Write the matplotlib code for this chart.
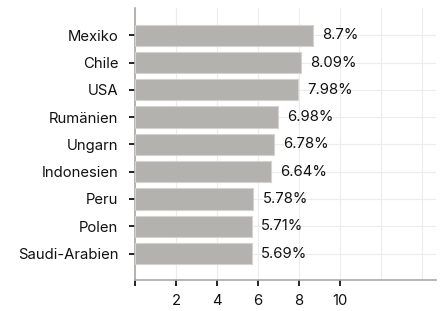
import numpy as np
import matplotlib.pyplot as plt

countries = ['Mexiko', 'Chile', 'USA', 'Rumänien', 'Ungarn',
             'Indonesien', 'Peru', 'Polen', 'Saudi-Arabien']
values = [8.7, 8.09, 7.98, 6.98, 6.78, 6.64, 5.78, 5.71, 5.69]
value_labels = ['8.7%', '8.09%', '7.98%', '6.98%', '6.78%',
                '6.64%', '5.78%', '5.71%', '5.69%']
xticks = [0, 2, 4, 6, 8, 10]
xtick_labels = ['', '2', '4', '6', '8', '10']

plt.rcParams['font.family'] = ['Inter', 'DejaVu Sans']
fs = 10.7

fig = plt.figure(figsize=(4.43, 3.11), dpi=100)
ax = fig.add_axes([135 / 443, 1 - 280 / 311, 301 / 443, 272 / 311])

y_pos = np.arange(len(countries))[::-1]
ax.barh(y_pos, values, height=0.78, color='#b3b2ae', edgecolor='#d4d3d0',
        linewidth=0.8, zorder=3)
for y, v, lab in zip(y_pos, values, value_labels):
    ax.text(v + 0.45, y, lab, va='center', ha='left', fontsize=fs,
            color='#111111', zorder=4)

ax.set_yticks(y_pos)
ax.set_yticklabels(countries, fontsize=fs, color='#111111')
ax.set_xticks(xticks)
ax.set_xticklabels(xtick_labels, fontsize=fs, color='#111111')
ax.set_xticks([12, 14], minor=True)
ax.set_xlim(0, 14.7)
ax.set_ylim(-0.97, 9.0)

ax.grid(True, which='both', color='#ececec', linewidth=0.8, zorder=0)
ax.tick_params(axis='x', which='minor', length=0)
ax.tick_params(axis='both', which='major', length=4, width=1.3,
               color='#111111')
ax.tick_params(axis='y', pad=8)
ax.tick_params(axis='x', pad=6)
for s in ['top', 'right']:
    ax.spines[s].set_visible(False)
for s in ['left', 'bottom']:
    ax.spines[s].set_color('#a8a8a8')
    ax.spines[s].set_linewidth(1.2)

plt.savefig('out.png', dpi=100)
